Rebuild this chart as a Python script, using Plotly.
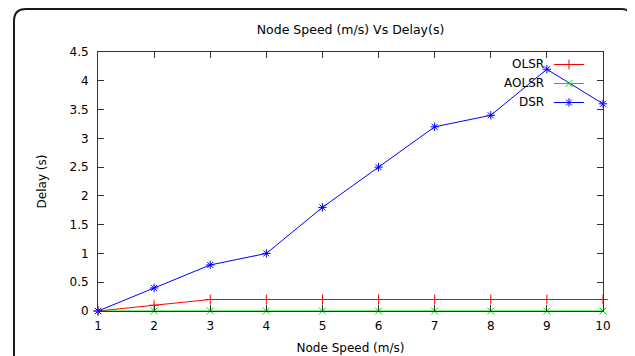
import plotly.graph_objects as go

node_speed = [1, 2, 3, 4, 5, 6, 7, 8, 9, 10]
olsr_delay = [0, 0.1, 0.2, 0.2, 0.2, 0.2, 0.2, 0.2, 0.2, 0.2]
aolsr_delay = [0, 0, 0, 0, 0, 0, 0, 0, 0, 0]
dsr_delay = [0, 0.4, 0.8, 1.0, 1.8, 2.5, 3.2, 3.4, 4.2, 3.6]
series_names = ["OLSR", "AOLSR", "DSR"]
y_ticks = [0, 0.5, 1, 1.5, 2, 2.5, 3, 3.5, 4, 4.5]
y_tick_labels = ["0", "0.5", "1", "1.5", "2", "2.5", "3", "3.5", "4", "4.5"]
x_ticks = node_speed

# page body adds an 8px margin; work in screen pixels and convert
OFF = 8
W, H = 635 - OFF, 356 - OFF
L, R, T, B = 98 - OFF, 603 - OFF, 52 - OFF, 311 - OFF
FONT = "DejaVu Sans"

fig = go.Figure()
styles = [
    dict(color="#ff0000", symbol="cross-thin-open"),
    dict(color="#00dd00", symbol="x-thin-open"),
    dict(color="#0000ff", symbol="asterisk-open"),
]
for name, ys, st in zip(series_names, [olsr_delay, aolsr_delay, dsr_delay], styles):
    fig.add_trace(go.Scatter(
        x=node_speed, y=ys, mode="lines+markers", name="",
        line=dict(color=st["color"], width=1),
        marker=dict(symbol=st["symbol"], size=7,
                    line=dict(color=st["color"], width=1), color=st["color"]),
        cliponaxis=False,
    ))

def px_x(p):  # screen px -> paper
    return (p - OFF - L) / (R - L)

def px_y(p):
    return (B - (p - OFF)) / (B - T)

# rounded frame around the figure
fl, ft, fr, fb, rad = 14, 9, 633, 380, 12
path = (
    f"M {px_x(fl)},{px_y(fb)} L {px_x(fl)},{px_y(ft + rad)} "
    f"Q {px_x(fl)},{px_y(ft)} {px_x(fl + rad)},{px_y(ft)} "
    f"L {px_x(fr - rad)},{px_y(ft)} "
    f"Q {px_x(fr)},{px_y(ft)} {px_x(fr)},{px_y(ft + rad)} "
    f"L {px_x(fr)},{px_y(fb)}"
)
fig.add_shape(type="path", path=path, xref="paper", yref="paper",
              line=dict(color="#1a1a1a", width=2))

# legend labels (text left of sample, gnuplot style)
label_rows = [64, 83, 102]
for name, yy in zip(series_names, label_rows):
    fig.add_annotation(x=px_x(546), y=px_y(yy), xref="paper", yref="paper",
                       text=name, showarrow=False, xanchor="right", yanchor="middle",
                       font=dict(family=FONT, size=12, color="#000000"))

axis_common = dict(
    showline=True, linecolor="#333333", linewidth=1, mirror="ticks",
    ticks="inside", ticklen=6, tickcolor="#333333", tickwidth=1,
    showgrid=False, zeroline=False,
    tickfont=dict(family=FONT, size=12, color="#000000"),
)

fig.update_layout(
    width=W, height=H,
    margin=dict(l=L, r=W - R, t=T, b=H - B, autoexpand=False),
    paper_bgcolor="white", plot_bgcolor="white",
    font=dict(family=FONT, size=12, color="#000000"),
    title=dict(text="Node Speed (m/s) Vs Delay(s)", x=(L + R) / 2 / W, xanchor="center",
               y=1 - (30 - OFF) / H, yanchor="middle", font=dict(family=FONT, size=12.5)),
    xaxis=dict(range=[1, 10], tickvals=x_ticks, ticktext=[str(v) for v in x_ticks],
               title=dict(text="Node Speed (m/s)", standoff=11, font=dict(family=FONT, size=12)),
               ticklabelstandoff=4, **axis_common),
    yaxis=dict(range=[0, 4.5], tickvals=y_ticks, ticktext=y_tick_labels,
               title=dict(text="Delay (s)", standoff=20, font=dict(family=FONT, size=12)),
               ticklabelstandoff=6, **axis_common),
    showlegend=True,
    legend=dict(x=px_x(549), y=px_y(50), xanchor="left", yanchor="top",
                bgcolor="rgba(0,0,0,0)", font=dict(family=FONT, size=8),
                itemwidth=30, tracegroupgap=0),
)

fig.write_html("out.html")
